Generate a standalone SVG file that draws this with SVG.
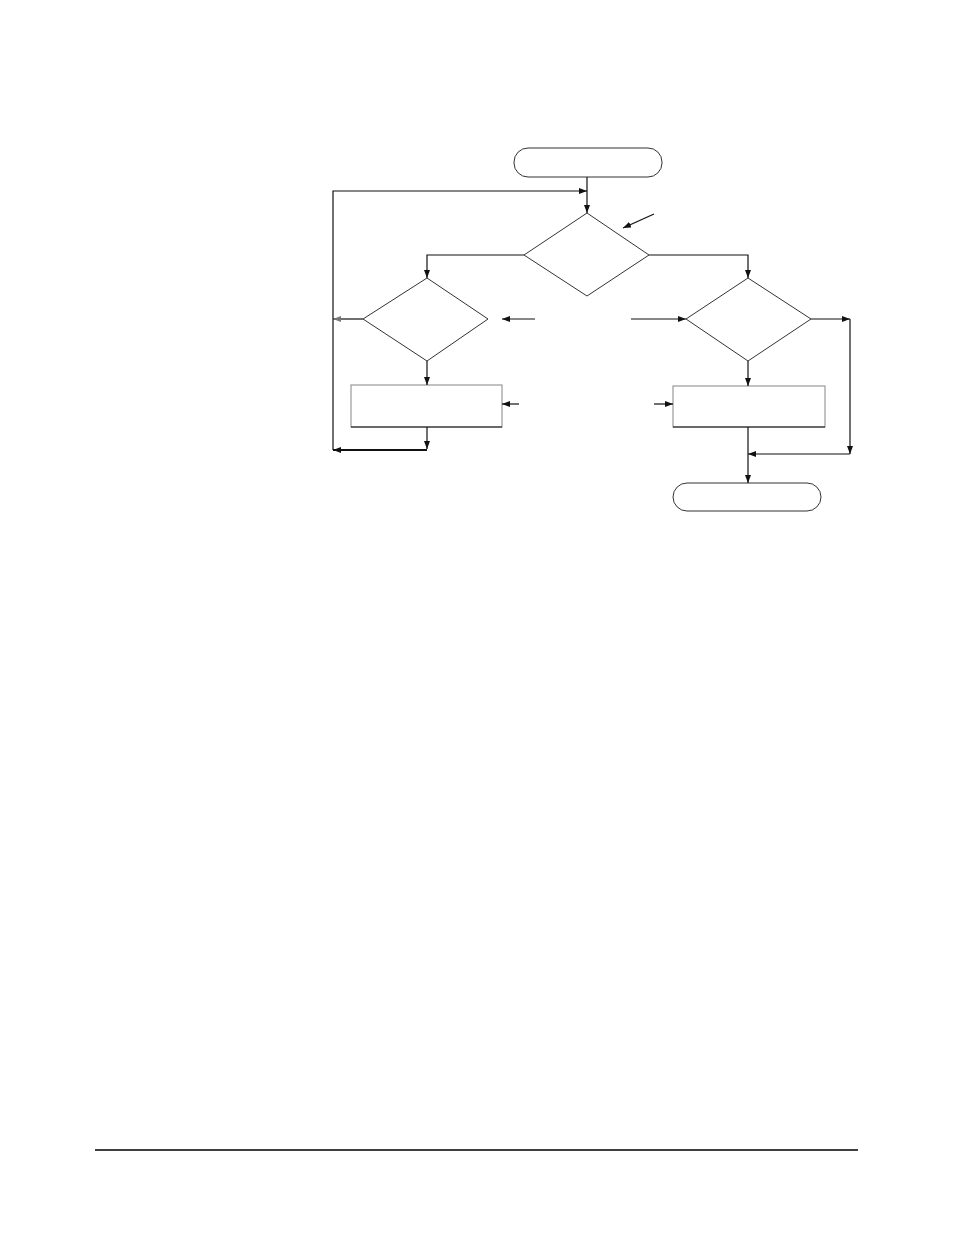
<svg xmlns="http://www.w3.org/2000/svg" width="954" height="1235" viewBox="0 0 954 1235">
<style>
.shape{fill:#fff;stroke:#333;stroke-width:1}
.box{fill:#fff;stroke:#999;stroke-width:1.2}
.ln{fill:none;stroke:#111;stroke-width:1.2}
.thick{fill:none;stroke:#111;stroke-width:2}
</style>
<defs>
<marker id="ah" viewBox="0 0 8 6" refX="8" refY="3" markerWidth="8" markerHeight="6" markerUnits="userSpaceOnUse" orient="auto">
<path d="M0,0 L8,3 L0,6 Z" fill="#111"/>
</marker>
<marker id="ahg" viewBox="0 0 8 6" refX="8" refY="3" markerWidth="8" markerHeight="6" markerUnits="userSpaceOnUse" orient="auto">
<path d="M0,0 L8,3 L0,6 Z" fill="#777"/>
</marker>
</defs>
<g id="start"><rect class="shape" x="514" y="148" width="148" height="29" rx="14" ry="14"/></g>
<g id="decision1"><polygon class="shape" points="587,213 649,255 587,296 524,255"/></g>
<g id="decision2"><polygon class="shape" points="427,278 488,319 427,361 363,319"/></g>
<g id="decision3"><polygon class="shape" points="748,278 811,319 748,361 686,319"/></g>
<g id="process1"><rect class="box" x="351" y="385" width="151" height="42"/><line x1="351" y1="427" x2="502" y2="427" stroke="#111" stroke-width="1.2"/></g>
<g id="process2"><rect class="box" x="673" y="386" width="152" height="41"/><line x1="673" y1="427" x2="825" y2="427" stroke="#111" stroke-width="1.2"/></g>
<g id="end"><rect class="shape" x="673" y="483" width="148" height="28" rx="14" ry="14"/></g>
<g id="connectors">
<line class="ln" x1="587" y1="177" x2="587" y2="213" marker-end="url(#ah)"/>
<polyline class="ln" points="333,450 333,191 587,191" marker-end="url(#ah)"/>
<line class="ln" x1="654" y1="214" x2="623" y2="228" marker-end="url(#ah)"/>
<polyline class="ln" points="524,255 427,255 427,278" marker-end="url(#ah)"/>
<polyline class="ln" points="649,255 748,255 748,278" marker-end="url(#ah)"/>
<line class="ln" x1="363" y1="319" x2="333" y2="319" marker-end="url(#ahg)"/>
<line class="ln" x1="535" y1="319" x2="502" y2="319" marker-end="url(#ah)"/>
<line class="ln" x1="631" y1="319" x2="686" y2="319" marker-end="url(#ah)"/>
<line class="ln" x1="427" y1="361" x2="427" y2="385" marker-end="url(#ah)"/>
<line class="ln" x1="519" y1="404" x2="502" y2="404" marker-end="url(#ah)"/>
<line class="ln" x1="427" y1="427" x2="427" y2="449" marker-end="url(#ah)"/>
<line class="thick" x1="427" y1="450" x2="333" y2="450" marker-end="url(#ah)"/>
<line class="ln" x1="811" y1="319" x2="850" y2="319" marker-end="url(#ah)"/>
<line class="ln" x1="850" y1="319" x2="850" y2="454" marker-end="url(#ah)"/>
<line class="ln" x1="850" y1="454" x2="748" y2="454" marker-end="url(#ah)"/>
<line class="ln" x1="748" y1="361" x2="748" y2="386" marker-end="url(#ah)"/>
<line class="ln" x1="654" y1="404" x2="673" y2="404" marker-end="url(#ah)"/>
<line class="ln" x1="748" y1="427" x2="748" y2="483" marker-end="url(#ah)"/>
</g>
<line x1="95" y1="1150" x2="858" y2="1150" stroke="#000" stroke-width="1.5"/>
</svg>
